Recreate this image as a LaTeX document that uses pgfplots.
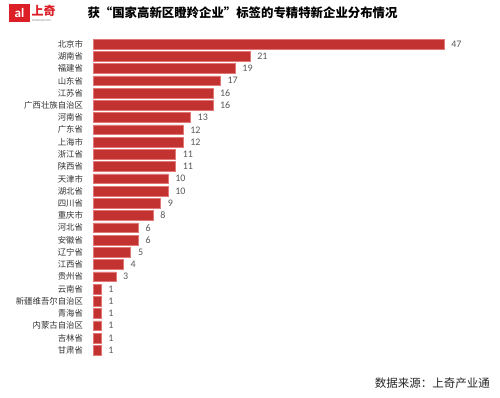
\documentclass[border=0pt]{standalone}
\usepackage{pgfplots}
\pgfplotsset{compat=1.18}
\usepackage{fontspec}
\setmainfont{Carlito}
\newfontfamily\cjk{Noto Sans CJK SC}
\definecolor{barred}{RGB}{193,50,48}
\definecolor{baredge}{RGB}{226,120,118}
\definecolor{lblgray}{RGB}{89,89,89}
\definecolor{logored}{RGB}{220,30,38}
\begin{document}
\begin{tikzpicture}[x=1pt,y=1pt]
\path[use as bounding box, fill=white] (0,0) rectangle (500,398);
% logo
\fill[logored] (9,376) rectangle (30,394);
\node[text=white, font=\bfseries\fontsize{13}{13}\selectfont, inner sep=0pt] at (19.5,385) {al};
\node[text=logored, font=\cjk\bfseries\fontsize{12}{12}\selectfont, inner sep=0pt, anchor=west] at (31.5,387.5) {上奇};
\node[text=gray, font=\fontsize{3}{3}\selectfont, inner sep=0pt, anchor=west] at (32,377.5) {SHANGQI.COM};
% title
\node[font=\cjk\bfseries\fontsize{12.4}{14}\selectfont, inner sep=0pt] at (242.5,385) {获“国家高新区瞪羚企业”标签的专精特新企业分布情况};
% source
\node[anchor=east, font=\cjk\fontsize{11.5}{13}\selectfont, inner sep=0pt, text=black!85] at (490,15) {数据来源：上奇产业通};
\begin{axis}[
  at={(93.5pt,41.6pt)}, anchor=south west,
  scale only axis, width=350.5pt, height=318.5pt,
  xmin=0, xmax=47, ymin=-0.5, ymax=25.5,
  y dir=reverse, clip=false,
  xbar, bar width=0.8,
  axis line style={draw=none}, tick style={draw=none},
  xtick=\empty,
  ytick={0,...,25},
  yticklabels={北京市,湖南省,福建省,山东省,江苏省,广西壮族自治区,河南省,广东省,上海市,浙江省,陕西省,天津市,湖北省,四川省,重庆市,河北省,安徽省,辽宁省,江西省,贵州省,云南省,新疆维吾尔自治区,青海省,内蒙古自治区,吉林省,甘肃省},
  yticklabel style={font=\cjk\fontsize{8.4}{10}\selectfont, text=black!80, inner sep=0pt, anchor=east, xshift=-6pt},
  /pgf/number format/assume math mode=true,
  nodes near coords,
  nodes near coords style={font=\fontsize{10}{12}\selectfont, text=lblgray, anchor=west, inner sep=0pt, xshift=7pt},
]
\addplot[fill=barred, draw=baredge, line width=0.6pt] coordinates {
(47,0) (21,1) (19,2) (17,3) (16,4) (16,5) (13,6) (12,7) (12,8) (11,9) (11,10) (10,11) (10,12) (9,13) (8,14) (6,15) (6,16) (5,17) (4,18) (3,19) (1,20) (1,21) (1,22) (1,23) (1,24) (1,25)
};
\end{axis}
\end{tikzpicture}
\end{document}
